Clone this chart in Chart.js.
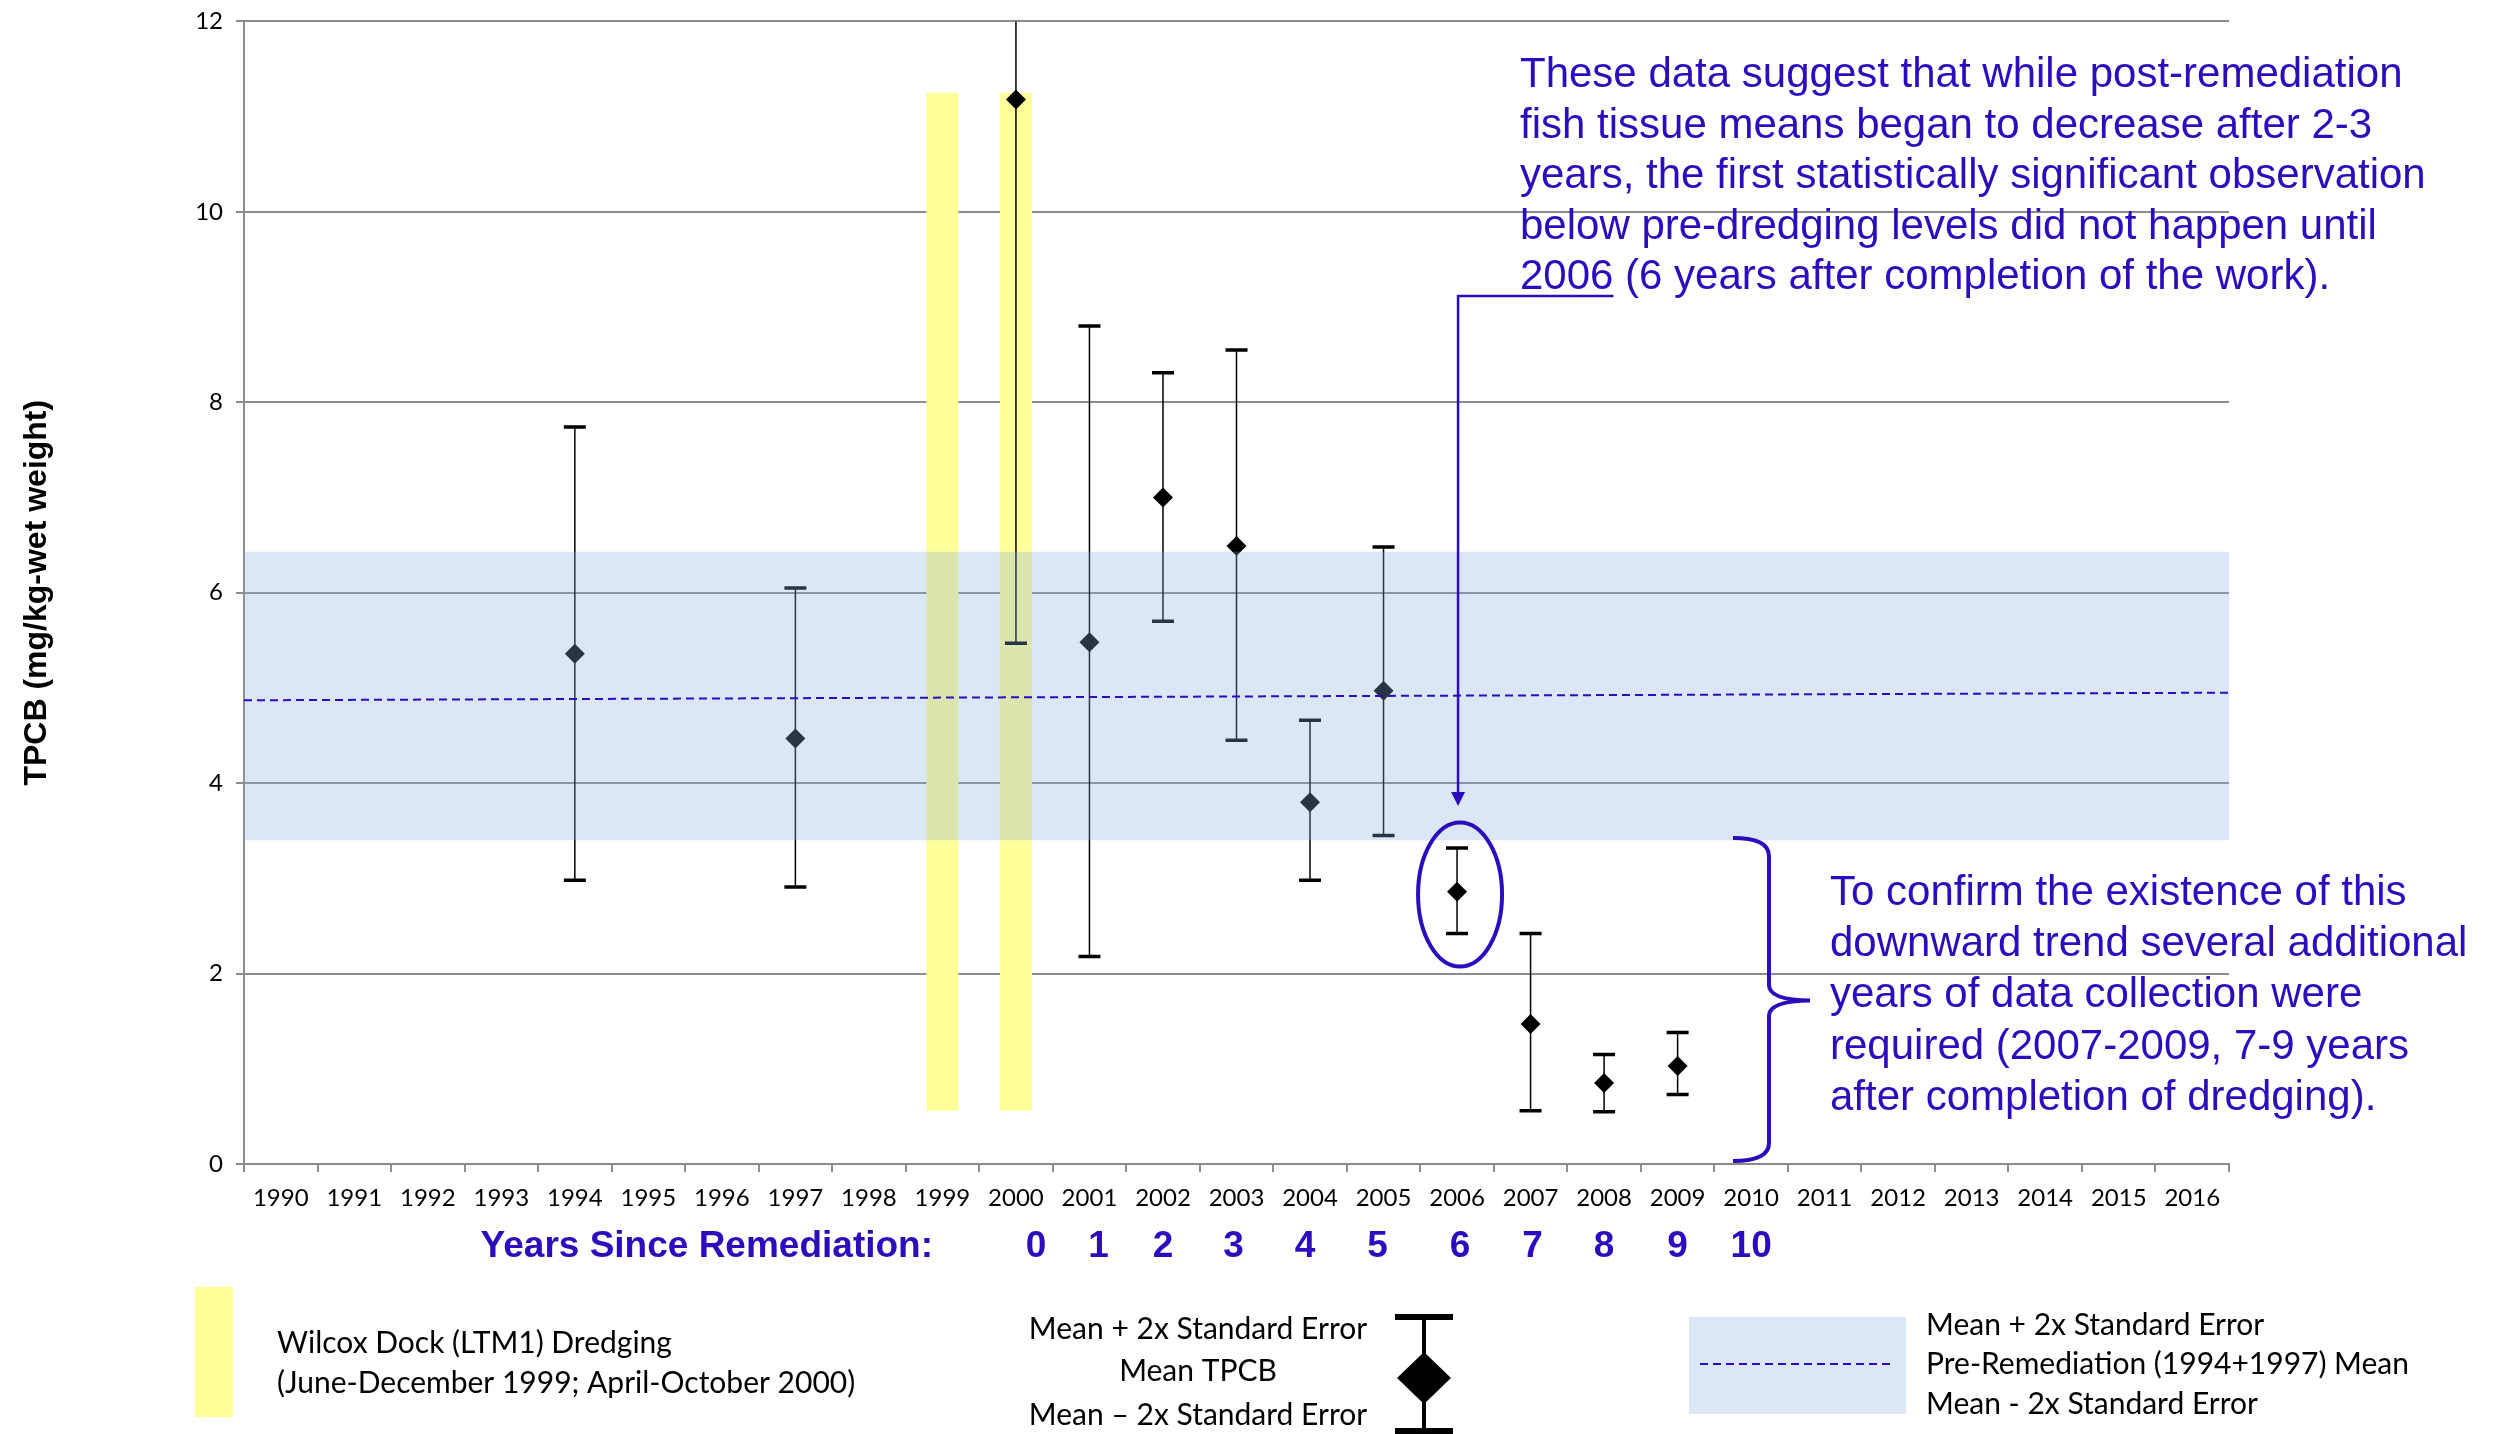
<!DOCTYPE html>
<html>
<head>
<meta charset="utf-8">
<script src="https://cdn.jsdelivr.net/npm/chart.js@4.4.0/dist/chart.umd.min.js"></script>
<style>
html,body{margin:0;padding:0;background:#ffffff;overflow:hidden}
#wrap{width:2513px;height:1434px;position:relative}
canvas{display:block}
</style>
</head>
<body>
<div id="wrap"><canvas id="c" width="2513" height="1434" style="width:2513px;height:1434px"></canvas></div>
<script>
// ---------------- data ----------------
const years = ['1990','1991','1992','1993','1994','1995','1996','1997','1998','1999','2000','2001','2002',
  '2003','2004','2005','2006','2007','2008','2009','2010','2011','2012','2013','2014','2015','2016'];
const sampleYears = ['1994','1997','2000','2001','2002','2003','2004','2005','2006','2007','2008','2009'];
const meanTPCB  = [5.36, 4.47, 11.18, 5.48, 7.00, 6.49, 3.80, 4.97, 2.86, 1.47, 0.85, 1.03];
const upperTPCB = [7.74, 6.05, 16.90, 8.80, 8.31, 8.55, 4.66, 6.48, 3.32, 2.42, 1.15, 1.38];
const lowerTPCB = [2.98, 2.91, 5.47, 2.18, 5.70, 4.45, 2.98, 3.45, 2.42, 0.56, 0.55, 0.73];
const dredgeYears = ['1999','2000'];
const dredgeRange = [0.56, 11.25];
const bandX = [1989.5, 2016.5];
const preRemUpper = 6.43;
const preRemLower = 3.40;
const preRemMean = [4.87, 4.95];
const yMin = 0, yMax = 12, yStep = 2;
const sinceYears = ['2000','2001','2002','2003','2004','2005','2006','2007','2008','2009','2010'];
const sinceLabels = ['0','1','2','3','4','5','6','7','8','9','10'];
const highlightYear = '2006';

const note1 = [
  'These data suggest that while post-remediation',
  'fish tissue means began to decrease after 2-3',
  'years, the first statistically significant observation',
  'below pre-dredging levels did not happen until',
  ' (6 years after completion of the work).'
];
const note2 = [
  'To confirm the existence of this',
  'downward trend several additional',
  'years of data collection were',
  'required (2007-2009, 7-9 years',
  'after completion of dredging).'
];

// ---------------- styles ----------------
const BLUE = '#2d0cbe';
const BAND = 'rgba(135,172,225,0.30)';
const YELLOW = '#ffff99';
const GRID = '#8c8c8c';
const TICKFONT = 'Lato';
const ARIAL = '"Liberation Sans", Arial, sans-serif';
const SINCE_NUDGE = [20, 9, 0, -3, -5, -6, 3, 2, 0, 0, 0]; // label placement tweaks (px)

// ---------------- plugins ----------------
const errorBarPlugin = {
  id: 'errorBars',
  beforeDatasetDraw(chart, args) {
    if (args.index !== 2) return; // the means dataset
    const ctx = chart.ctx, x = chart.scales.x, y = chart.scales.y, a = chart.chartArea;
    ctx.save();
    ctx.beginPath();
    ctx.rect(a.left, a.top, a.right - a.left, a.bottom - a.top);
    ctx.clip();
    ctx.strokeStyle = '#000';
    sampleYears.forEach((yr, i) => {
      const px = x.getPixelForValue(years.indexOf(yr));
      const yu = y.getPixelForValue(upperTPCB[i]);
      const yl = y.getPixelForValue(lowerTPCB[i]);
      ctx.lineWidth = 1.5;
      ctx.beginPath(); ctx.moveTo(px, yu); ctx.lineTo(px, yl); ctx.stroke();
      ctx.lineWidth = 3.5;
      ctx.beginPath();
      ctx.moveTo(px - 11, yu); ctx.lineTo(px + 11, yu);
      ctx.moveTo(px - 11, yl); ctx.lineTo(px + 11, yl);
      ctx.stroke();
    });
    ctx.restore();
  }
};

const decorPlugin = {
  id: 'decor',
  afterDraw(chart) {
    const ctx = chart.ctx, x = chart.scales.x;
    ctx.save();

    // y axis title
    ctx.save();
    ctx.font = 'bold 32px ' + ARIAL;
    ctx.translate(37, (chart.chartArea.top + chart.chartArea.bottom) / 2);
    ctx.rotate(-Math.PI / 2);
    ctx.fillStyle = '#000';
    ctx.textAlign = 'center';
    ctx.textBaseline = 'middle';
    ctx.fillText('TPCB (mg/kg-wet weight)', 0, 0);
    ctx.restore();

    // Years since remediation
    ctx.fillStyle = BLUE;
    ctx.font = 'bold 37px ' + ARIAL;
    ctx.textBaseline = 'alphabetic';
    ctx.textAlign = 'right';
    ctx.fillText('Years Since Remediation:', 933, 1257);
    ctx.textAlign = 'center';
    sinceYears.forEach((yr, i) => {
      ctx.fillText(sinceLabels[i], x.getPixelForValue(years.indexOf(yr)) + SINCE_NUDGE[i], 1257);
    });

    // note 1
    ctx.font = '42px ' + ARIAL;
    ctx.textAlign = 'left';
    const nx = 1520;
    note1.forEach((t, i) => {
      if (i === note1.length - 1) {
        ctx.fillText(highlightYear, nx, 87 + i * 50.6);
        const w = ctx.measureText(highlightYear).width;
        ctx.fillText(t, nx + w, 87 + i * 50.6);
      } else {
        ctx.fillText(t, nx, 87 + i * 50.6);
      }
    });
    const uw = ctx.measureText(highlightYear).width;
    const hx = x.getPixelForValue(years.indexOf(highlightYear));
    ctx.strokeStyle = BLUE;
    ctx.lineWidth = 2.5;
    ctx.beginPath();
    ctx.moveTo(nx + uw, 296);
    ctx.lineTo(hx + 1, 296);
    ctx.lineTo(hx + 1, 794);
    ctx.stroke();
    ctx.beginPath();
    ctx.moveTo(hx + 1 - 7, 792);
    ctx.lineTo(hx + 1 + 7, 792);
    ctx.lineTo(hx + 1, 806);
    ctx.closePath();
    ctx.fillStyle = BLUE;
    ctx.fill();

    // ellipse around 2006
    ctx.lineWidth = 4;
    ctx.beginPath();
    ctx.ellipse(hx + 3, 894.5, 42, 72, 0, 0, Math.PI * 2);
    ctx.stroke();

    // brace
    ctx.lineWidth = 4;
    ctx.beginPath();
    ctx.moveTo(1733, 838);
    ctx.quadraticCurveTo(1769, 838, 1769, 856);
    ctx.lineTo(1769, 985);
    ctx.quadraticCurveTo(1769, 1000, 1810, 1000.5);
    ctx.quadraticCurveTo(1769, 1001, 1769, 1016);
    ctx.lineTo(1769, 1143);
    ctx.quadraticCurveTo(1769, 1161, 1733, 1161);
    ctx.stroke();

    // note 2
    ctx.fillStyle = BLUE;
    ctx.font = '42px ' + ARIAL;
    note2.forEach((t, i) => ctx.fillText(t, 1830, 905 + i * 51.2));

    // ---- bottom legend ----
    ctx.fillStyle = YELLOW;
    ctx.fillRect(195, 1287, 38, 130);
    ctx.fillStyle = '#000';
    ctx.font = '30px ' + TICKFONT;
    ctx.textAlign = 'left';
    ctx.fillText('Wilcox Dock (LTM1) Dredging', 277, 1353);
    ctx.fillText('(June-December 1999; April-October 2000)', 277, 1393);

    ctx.textAlign = 'center';
    ctx.fillText('Mean + 2x Standard Error', 1198, 1339);
    ctx.fillText('Mean TPCB', 1198, 1381);
    ctx.fillText('Mean \u2013 2x Standard Error', 1198, 1425);

    // error bar symbol
    ctx.strokeStyle = '#000';
    ctx.lineWidth = 4;
    ctx.beginPath(); ctx.moveTo(1424, 1317); ctx.lineTo(1424, 1431); ctx.stroke();
    ctx.lineWidth = 6;
    ctx.beginPath();
    ctx.moveTo(1395, 1317); ctx.lineTo(1453, 1317);
    ctx.moveTo(1395, 1431); ctx.lineTo(1453, 1431);
    ctx.stroke();
    ctx.fillStyle = '#000';
    ctx.beginPath();
    ctx.moveTo(1424, 1352); ctx.lineTo(1451, 1378); ctx.lineTo(1424, 1404); ctx.lineTo(1397, 1378);
    ctx.closePath(); ctx.fill();

    // band legend
    ctx.fillStyle = BAND;
    ctx.fillRect(1689, 1317, 217, 97);
    ctx.strokeStyle = BLUE;
    ctx.lineWidth = 2;
    ctx.setLineDash([8, 5]);
    ctx.beginPath(); ctx.moveTo(1700, 1364); ctx.lineTo(1895, 1364); ctx.stroke();
    ctx.setLineDash([]);
    ctx.fillStyle = '#000';
    ctx.textAlign = 'left';
    ctx.font = '30px ' + TICKFONT;
    ctx.fillText('Mean + 2x Standard Error', 1926, 1335);
    ctx.fillText('Pre-Remediation (1994+1997) Mean', 1926, 1374);
    ctx.fillText('Mean - 2x Standard Error', 1926, 1414);

    ctx.restore();
  }
};

// ---------------- chart ----------------
new Chart(document.getElementById('c'), {
  type: 'bar',
  data: {
    labels: years,
    datasets: [
      {
        label: 'Pre-Remediation (1994+1997) Mean',
        type: 'line',
        xAxisID: 'x2',
        data: bandX.map((v, i) => ({ x: v, y: preRemMean[i] })),
        borderColor: BLUE,
        borderWidth: 2,
        borderDash: [8, 5],
        pointRadius: 0,
        fill: false,
        order: 0
      },
      {
        label: 'Mean \u00b1 2x Standard Error band',
        type: 'line',
        xAxisID: 'x2',
        data: bandX.map(v => ({ x: v, y: preRemUpper })),
        borderWidth: 0,
        borderColor: 'rgba(0,0,0,0)',
        backgroundColor: BAND,
        pointRadius: 0,
        fill: { value: preRemLower },
        order: 1
      },
      {
        label: 'Mean TPCB',
        type: 'line',
        data: sampleYears.map((yr, i) => ({ x: yr, y: meanTPCB[i] })),
        showLine: false,
        pointStyle: 'rectRot',
        pointRadius: 10,
        pointBackgroundColor: '#000',
        pointBorderColor: '#000',
        pointBorderWidth: 0,
        order: 2
      },
      {
        label: 'Wilcox Dock (LTM1) Dredging',
        type: 'bar',
        data: dredgeYears.map(yr => ({ x: yr, y: dredgeRange })),
        backgroundColor: YELLOW,
        borderWidth: 0,
        grouped: false,
        barPercentage: 0.435,
        categoryPercentage: 1,
        order: 3
      }
    ]
  },
  options: {
    responsive: false,
    animation: false,
    devicePixelRatio: 1,
    layout: { padding: { left: 0, top: 20, right: 284, bottom: 0 } },
    plugins: { legend: { display: false }, tooltip: { enabled: false }, title: { display: false } },
    scales: {
      x: {
        type: 'category',
        offset: true,
        grid: { offset: true, drawOnChartArea: false, drawTicks: true, tickLength: 8, color: GRID, lineWidth: 2 },
        border: { color: GRID, width: 2 },
        ticks: { font: { family: TICKFONT, size: 24 }, color: '#000', padding: 12, maxRotation: 0, autoSkip: false },
        afterFit(s) { s.height = 270; }
      },
      x2: {
        type: 'linear',
        display: false,
        offset: false,
        min: bandX[0],
        max: bandX[1]
      },
      y: {
        min: yMin,
        max: yMax,
        ticks: { stepSize: yStep, font: { family: TICKFONT, size: 24, lineHeight: 0.7 }, color: '#000', padding: 13 },
        grid: { color: GRID, lineWidth: 2, tickLength: 8, drawTicks: true },
        border: { color: GRID, width: 2 },
        afterFit(s) { s.width = 244; }
      }
    }
  },
  plugins: [errorBarPlugin, decorPlugin]
});
</script>
</body>
</html>
